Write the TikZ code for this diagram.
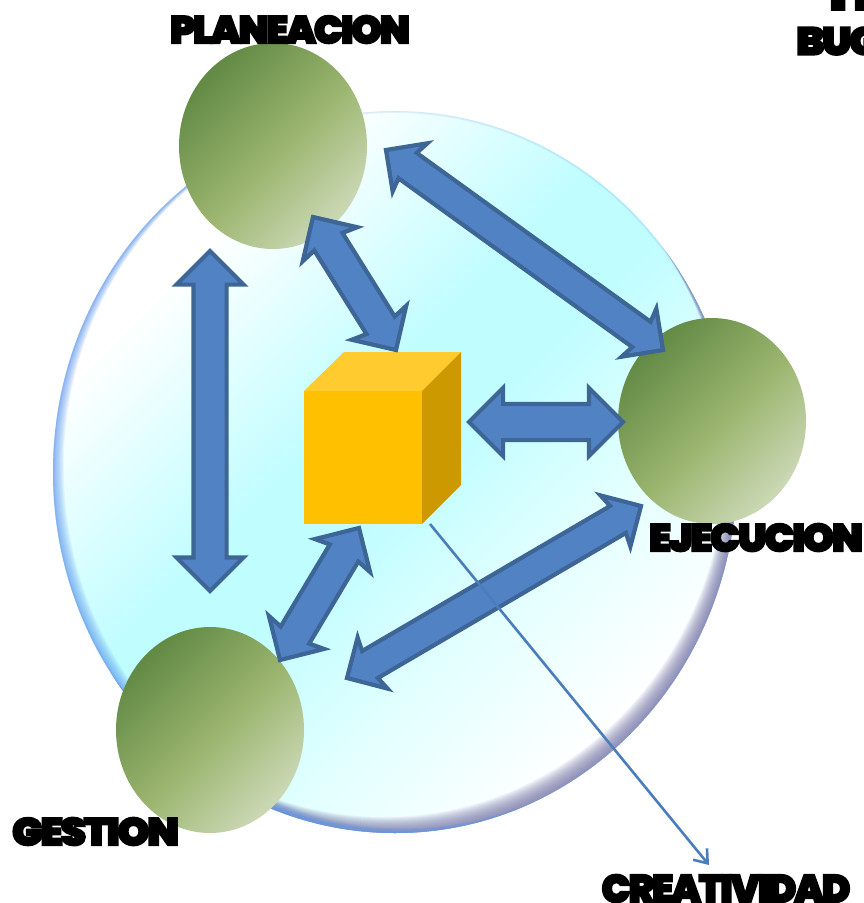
\documentclass[tikz,border=0pt]{standalone}
\usepackage{fontspec}
\usepackage{graphicx}
\usetikzlibrary{shapes.arrows,shapes.geometric,calc,arrows.meta}
\newfontfamily\heavy[UprightFont=* Black,FakeBold=4,LetterSpace=-6]{Poppins}
\definecolor{arrowfill}{HTML}{5183C4}
\definecolor{arrowline}{HTML}{3D6596}
\definecolor{linkblue}{HTML}{4A7EBB}
\definecolor{skya}{HTML}{BFFDFF}
\definecolor{skyb}{HTML}{E2FFFF}
\pgfdeclarehorizontalshading{sphereshade}{100bp}{color(0bp)=(white);color(29bp)=(white);color(45bp)=(skya);color(51bp)=(skya);color(62bp)=(skyb);color(74bp)=(white);color(100bp)=(white)}
\definecolor{ga}{HTML}{5B8540}\definecolor{gb}{HTML}{9BB56F}\definecolor{gc}{HTML}{D6E0C6}
\pgfdeclarehorizontalshading{leafshade}{100bp}{color(0bp)=(ga);color(22bp)=(ga);color(52bp)=(gb);color(80bp)=(gc);color(100bp)=(gc)}
\tikzset{
  x=1pt,y=-1pt,
  blockarrow/.style={double arrow,draw=arrowline,fill=arrowfill,line width=4.2pt,
    inner sep=0pt,outer sep=0pt,double arrow tip angle=90,line join=miter},
  leaf/.style={ellipse,minimum width=188pt,minimum height=206pt,inner sep=0pt,shading=leafshade,shading angle=-45},
  label/.style={text=black,inner sep=0pt,anchor=center},
  sphere/.style={x radius=342pt,y radius=361pt},
}
\newcommand{\lbl}[3]{\resizebox{#1}{#2}{\heavy\fontsize{37}{37}\selectfont #3}}
\newcommand{\bigarrow}[6]{% name, from, to, head width, shaft width, indent
  \path let \p1=($(#3)-(#2)$),\n1={veclen(\x1,\y1)},\n2={atan2(\y1,\x1)} in
    node[blockarrow,minimum height=\n1,minimum width=#4,double arrow head extend=(#4-#5)/2,double arrow head indent=#6,rotate=\n2] (#1) at ($(#2)!.5!(#3)$) {\rule{0pt}{#5}};}
\begin{document}
\begin{tikzpicture}
\useasboundingbox (0,0) rectangle (864,903);
\clip (0,0) rectangle (864,903);
% sphere
\coordinate (sc) at (395,472);
\begin{scope}
  \clip (sc) ellipse [sphere];
  \path[shading=sphereshade,shading angle=-45] (sc) ellipse [sphere];
  % lavender-grey crescent, lower right
  \foreach \d in {1,2,...,20}{
    \fill[color={rgb,255:red,120;green,120;blue,170},opacity=.07,even odd rule]
      (-100,-100) rectangle (1000,1000) ($(sc)+(-.55*\d,-.8*\d)$) ellipse [sphere];
  }
  % blue crescent, lower left
  \foreach \d in {1,2,...,12}{
    \fill[color={rgb,255:red,90;green,150;blue,240},opacity=.08,even odd rule]
      (-100,-100) rectangle (1000,1000) ($(sc)+(.9*\d,-.4*\d)$) ellipse [sphere];
  }
  % thin rim
  \foreach \w in {2,4}{
    \draw[color={rgb,255:red,110;green,160;blue,235},opacity=.12,line width=\w pt] (sc) ellipse [sphere];
  }
\end{scope}
% ovals
\node[leaf] (plan) at (273,146) {};
\node[leaf] (ejec) at (712,421) {};
\node[leaf] (gest) at (210,730) {};
% cube
\fill[color=white!50!yellow] (304,391) -- (344,352) -- (461,352) -- (461,485) -- (422,524) -- (304,524) -- cycle;
\node[fill={rgb,255:red,255;green,192;blue,0},minimum width=118pt,minimum height=133pt,inner sep=0pt,outer sep=0pt] (cube) at (363,457.5) {};
\fill[color={rgb,255:red,255;green,203;blue,47}] (cube.north west) -- (344,352) -- (461,352) -- (cube.north east) -- cycle;
\fill[color={rgb,255:red,204;green,154;blue,0}] (cube.north east) -- (461,352) -- (461,485) -- (cube.south east) -- cycle;
% arrow ends
\coordinate (a1) at (210,251);\coordinate (a2) at (210,591);
\coordinate (b1) at (386,150);\coordinate (b2) at (663,350);
\coordinate (c1) at (313,217);\coordinate (c2) at (396,350);
\coordinate (d1) at (469,422);\coordinate (d2) at (623,422);
\coordinate (e1) at (641,506);\coordinate (e2) at (347,678);
\coordinate (f1) at (359,528);\coordinate (f2) at (280,660);
\bigarrow{aa}{a1}{a2}{63pt}{29pt}{0pt}
\bigarrow{ab}{b1}{b2}{55pt}{27pt}{3pt}
\bigarrow{ac}{c1}{c2}{60pt}{29pt}{3pt}
\bigarrow{ad}{d1}{d2}{64pt}{32pt}{0pt}
\bigarrow{ae}{e1}{e2}{55pt}{27pt}{3pt}
\bigarrow{af}{f1}{f2}{60pt}{29pt}{3pt}
% link
\coordinate (crea) at (709,865);
\coordinate (lstart) at (430,524);
\draw[linkblue,line width=2.6pt,-{Straight Barb[length=12pt,width=18pt,line width=2.6pt]}] (lstart) -- (crea);
% labels
\node[label] (lplan) at (290,29.5) {\lbl{240pt}{28pt}{PLANEACION}};
\node[label] (lejec) at (756,537.5) {\lbl{214pt}{28pt}{EJECUCION}};
\node[label] (lgest) at (95.5,831.5) {\lbl{167pt}{28pt}{GESTION}};
\node[label] (lcrea) at (726,888.5) {\lbl{249pt}{28pt}{CREATIVIDAD}};
\node[label,anchor=west] (lh) at (829,-4) {\lbl{42pt}{28pt}{H}};
\node[label,anchor=west] (lb) at (796,41) {\lbl{84pt}{28pt}{BUG}};
\end{tikzpicture}
\end{document}
